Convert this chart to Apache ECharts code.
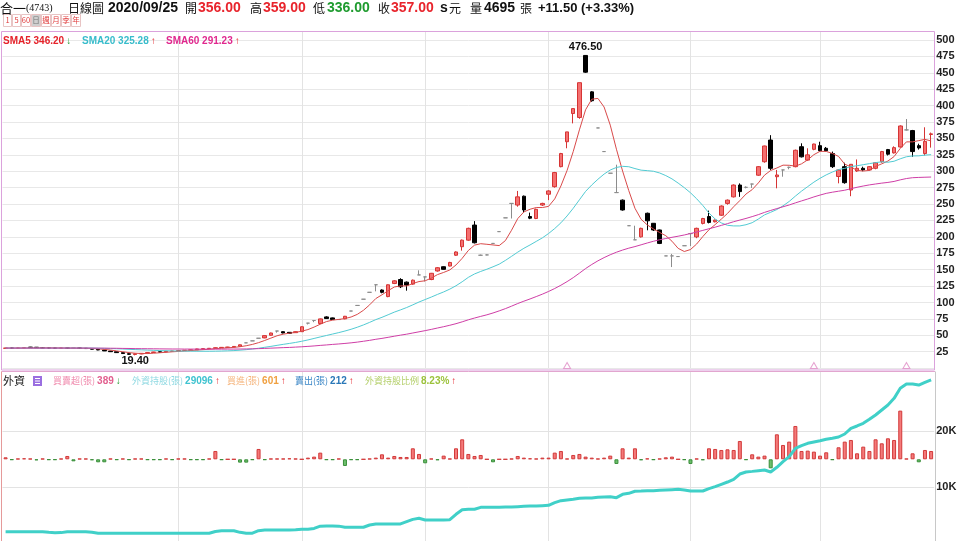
<!DOCTYPE html>
<html><head><meta charset="utf-8">
<script src="https://cdn.jsdelivr.net/npm/echarts@6/dist/echarts.min.js"></script>
<style>html,body{margin:0;padding:0;background:#fff;}#c{width:960px;height:541px;}</style>
</head><body><div id="c"></div>
<script>
// ---- trading days (categories) ----
const tradingDays = {
  '2020/02': [20,21,24,25,26,27],
  '2020/03': [2,3,4,5,6,9,10,11,12,13,16,17,18,19,20,23,24,25,26,27,30,31],
  '2020/04': [1,6,7,8,9,10,13,14,15,16,17,20,21,22,23,24,27,28,29,30],
  '2020/05': [4,5,6,7,8,11,12,13,14,15,18,19,20,21,22,25,26,27,28,29],
  '2020/06': [1,2,3,4,5,8,9,10,11,12,15,16,17,18,19,22,23,24,29,30],
  '2020/07': [1,2,3,6,7,8,9,10,13,14,15,16,17,20,21,22,23,24,27,28,29,30,31],
  '2020/08': [3,4,5,6,7,10,11,12,13,14,17,18,19,20,21,24,25,26,27,28,31],
  '2020/09': [1,2,3,4,7,8,9,10,11,14,15,16,17,18,21,22,23,24,25]
};
const monthLines = ['2020/04/01','2020/05/04','2020/06/01','2020/07/01','2020/08/03','2020/09/01'];
const eventDays = ['2020/07/06','2020/08/31','2020/09/21'];
const priceTicks = [25,50,75,100,125,150,175,200,225,250,275,300,325,350,375,400,425,450,475,500];
const holdTicks = {10000: '10K', 20000: '20K'};

// ---- price data ----
const open = [30.2,30.5,30.4,30.6,32.0,31.8,31.0,30.8,30.6,30.4, 30.5,30.5,30.6,30.2,29.8,28.6,27.5,26.0,25.0,23.6, 22.0,20.8,21.6,22.8,23.8,24.8,24.6,25.6,26.0,27.0, 27.2,27.8,29.2,29.6,30.2,31.0,31.6,32.0,33.2,38.5, 41.5,45.5,46.0,50.0,56.5,55.5,54.5,54.0,55.5,68.5, 72.5,68.0,78.0,76.5,74.0,75.0,87.0,95.5,105,115.5, 127,119,109,129,135,131,128,142,139,135, 148,154.5,155.5,172,185,195,218,172,172.5,190, 208,229,251,248.5,262,231,228,248.5,265,276.5, 307,345,388,382,476.5,421,366,330,297,267.5, 256,217,195.5,200,236,220.7,210.5,171,171,170, 186.5,205,200,220.5,231,223,233,251,261,279, 275.5,280.5,294,314.5,347.6,291.7,302,306,307,337.4, 317,333.4,339,335,327,292,307,271.4,300.4,304.5, 302,304.5,314.5,333,328,337,363,362,339,327, 356];
const close = [30.5,30.4,30.6,31.0,31.2,31.0,30.8,30.6,30.4,30.5, 30.3,30.5,30.2,29.8,28.8,27.6,26.2,25.0,23.6,22.2, 21.0,21.8,22.5,23.6,24.5,24.4,25.5,26.0,26.8,27.2, 27.8,29.2,29.6,30.2,31.0,31.6,32.0,33.0,35.5,38.5, 41.5,45.5,49.5,53.5,56.5,53.5,53.0,55.5,63.0,68.5, 72.5,75.0,75.5,74.0,74.0,79.0,87.0,95.5,105,115.5, 127,115.5,127,133,124,126.5,134,142,139,144.5, 153,150.5,161,177,195,213,191,172,172.5,190, 208,229,251,261,241,228.5,242,251,270,298, 327,360,395.5,435,451,407.5,366,330,297,267.5, 241,217,195.5,213,224.5,210.5,190,171,171,170, 186.5,205,213,228,222,225.5,247,256,279,269, 275.5,280.5,307,338.5,304.5,294.3,302,306,332,322, 325,341.5,331.3,331.3,307,302,282.6,310.6,304.5,302, 307,313,330,326,336,369,363,330,335.5,345.5, 357];
const low = [29.8,30.1,30.2,30.4,31.0,30.8,30.5,30.3,30.0,30.1, 30.0,30.2,30.0,29.5,28.5,27.3,26.0,24.5,23.2,21.8, 20.2,19.4,21.2,22.5,23.5,24.0,24.3,25.2,25.8,26.6, 27.0,27.6,28.8,29.3,30.0,30.8,31.3,31.8,33.0,38.5, 41.5,45.5,45.5,49.5,54.0,53.0,52.5,53.5,55.0,66.5, 70.0,67.0,75.0,73.5,73.5,74.5,87.0,95.5,105,115.5, 117,114,108,128,122,118,127,142,132,134, 147,150,155,171,179,194,190,172,172,190, 208,229,228,246,237,227,227,247,256,275, 306,335,373,380,450,406,366,330,297,267.5, 240,217,195.5,199,210,209,189,171,154,170, 186.5,186,198,219,220.5,222,232,249,260,261, 274,274.5,293,313,302,274,291.7,303,306,321, 316,332,330,330,305,281.6,281,262,299,300, 301,303,313,324,327,336,362,322,333,324, 336];
const high = [30.8,30.8,30.9,31.2,32.3,32.0,31.2,31.0,30.8,30.8, 30.7,30.8,30.8,30.4,30.0,28.8,27.8,26.3,25.2,23.8, 22.3,22.0,22.8,24.0,24.8,25.2,25.8,26.4,27.2,27.6, 28.2,29.5,30.0,30.5,31.4,32.0,32.4,33.4,35.8,38.5, 41.5,45.5,50.0,54.0,56.5,56.0,55.0,56.0,63.5,68.5, 72.5,75.5,79.0,77.0,74.5,79.5,87.0,95.5,105,115.5, 127,120,127.5,134,137,132,135,149,139,145, 154,155,162,178,196,214,224,173,173,190, 208,229,251,270,263,237,243,252,271,299, 328,360,395.5,435,476.5,422,366,330,297,310, 257,217,217,214,237,221,211,171,174,170, 186.5,205,214,229,240,226.5,248,257,280,281.5, 277,281,308,339,355,302,302,307,333,342.6, 335,342,345,337,330,303,313,311,318,307, 308,314,331,334,338,370,379.6,363,342,367, 359];
const sma5 = [30.5,30.5,30.5,30.6,30.7,30.8,30.9,30.9,30.8,30.7, 30.5,30.5,30.4,30.3,29.9,29.4,28.5,27.5,26.2,24.9, 23.6,22.7,22.2,22.2,22.7,23.4,24.1,24.8,25.4,26.0, 26.7,27.4,28.1,28.8,29.6,30.3,30.9,31.6,32.6,34.1, 36.1,38.8,42.1,45.7,49.3,51.7,53.2,54.4,56.3,58.7, 62.5,66.9,70.9,73.1,74.2,75.5,77.9,81.9,88.1,96.4, 106.0,111.7,118.0,123.6,125.3,125.2,128.9,131.9,133.1,137.2, 142.5,145.8,149.6,157.2,167.3,179.3,187.4,189.6,188.7,187.7, 186.7,194.3,210.1,227.8,238.0,242.1,244.7,244.7,246.5,257.9, 277.6,301.2,330.1,363.1,393.7,409.8,411.0,397.9,370.3,333.6, 300.3,270.5,243.6,226.8,218.2,212.1,206.7,201.8,193.4,182.5, 177.7,180.7,189.1,200.5,210.9,218.7,227.1,235.7,245.9,255.3, 265.3,272.0,282.2,294.1,301.2,305.0,309.3,309.1,307.8,311.3, 317.4,325.3,330.4,330.2,327.2,322.6,310.8,306.7,301.3,300.3, 301.3,307.4,311.3,315.6,322.4,334.8,344.8,344.8,346.7,348.6, 346.2];
const sma20 = [30.5,30.5,30.5,30.5,30.5,30.5,30.5,30.5,30.5,30.5, 30.5,30.5,30.5,30.5,30.5,30.3,30.1,29.8,29.5,29.1, 28.6,28.2,27.8,27.4,27.1,26.7,26.5,26.2,26.0,25.9, 25.8,25.7,25.7,25.7,25.8,26.0,26.3,26.7,27.3,28.1, 29.1,30.3,31.7,33.1,34.7,36.2,37.6,39.1,40.9,42.9, 45.2,47.5,49.7,51.9,54.1,56.5,59.2,62.3,65.8,69.7, 73.9,77.4,81.3,85.3,88.7,92.3,96.4,100.7,104.5,108.3, 112.3,116.1,120.4,125.5,131.6,138.3,143.5,147.3,150.7,154.4, 158.4,164.1,170.3,176.7,182.6,187.7,193.1,198.5,205.1,212.7, 221.4,231.9,243.6,256.5,269.3,279.1,287.8,295.7,301.9,305.8, 307.5,306.9,304.1,301.7,300.9,300.0,297.4,293.4,288.4,282.0, 275.0,267.2,258.1,247.8,236.3,227.2,221.3,217.6,216.7,216.7, 218.5,221.6,227.2,233.5,237.5,241.7,247.3,254.0,262.1,269.7, 276.6,283.4,289.3,294.5,298.8,302.6,304.4,307.1,308.4,310.0, 311.6,313.2,314.4,313.7,315.3,319.0,322.1,323.3,323.5,324.6, 325.3];
const sma60 = [30.5,30.5,30.5,30.5,30.5,30.5,30.5,30.5,30.5,30.5, 30.5,30.5,30.5,30.5,30.5,30.4,30.4,30.3,30.2,30.0, 29.9,29.7,29.6,29.5,29.4,29.3,29.2,29.1,29.1,29.0, 29.0,28.9,28.9,28.9,28.9,28.9,29.0,29.0,29.1,29.2, 29.4,29.7,30.0,30.4,30.8,31.2,31.5,32.0,32.5,33.1, 33.8,34.6,35.3,36.1,36.8,37.6,38.5,39.6,40.9,42.3, 43.9,45.3,46.9,48.6,50.2,51.7,53.5,55.3,57.1,59.0, 61.1,63.1,65.3,67.7,70.5,73.6,76.3,78.8,81.2,84.0, 87.2,90.6,94.4,98.4,102.0,105.4,109.0,112.7,116.8,121.3, 126.3,131.8,137.9,144.7,151.7,157.9,163.5,168.4,172.8,176.6, 179.9,182.8,185.2,187.9,190.7,193.3,195.6,197.5,199.3,201.0, 202.9,205.1,207.4,209.9,212.4,214.8,217.5,220.2,223.1,225.6, 228.1,230.9,233.9,237.3,240.3,243.1,245.9,248.6,251.8,254.8, 257.7,260.9,263.7,266.3,268.1,269.6,271.1,273.4,275.6,277.5, 279.2,280.6,281.9,283.0,284.5,286.9,288.9,290.2,290.6,290.9, 291.2];

// ---- foreign investor data ----
const netBuy = [94,-30,30,47,30,-47,30,-30,-30,30, 156,-94,30,30,-40,-140,-140,30,-30,30, -30,30,30,-30,-30,-30,30,-30,30,30, -30,-30,-30,30,390,-30,0,0,-156,-156, -30,484,-30,30,30,30,47,30,0,78, 125,312,-30,-30,30,-312,-30,-30,0,30, 78,234,78,156,109,109,515,250,-187,30, -40,172,30,515,936,250,156,203,0,-140, 0,0,30,156,78,47,30,78,78,312, 390,30,203,250,125,78,30,78,172,-218, 515,78,515,-40,40,-30,30,94,125,0, -30,-218,30,-40,515,484,437,468,437,858, -30,234,125,172,-421,1170,671,827,1560,390, 406,359,172,328,-30,562,827,905,281,593, 390,936,749,983,905,2278,30,281,-140,437, 389];
const holdings = [2120,2120,2120,2120,2120,2120,2120,2000,1940,1950, 2120,2120,2120,2100,2000,1830,1830,1830,1830,1830, 1830,1830,1830,1830,1830,1830,1830,1830,1830,1830, 1830,1830,1830,1830,2150,2300,2300,2280,2000,1840, 1850,2300,2400,2420,2420,2420,2420,2450,2530,2540, 2700,3100,3130,3130,3100,2900,2890,2890,2900,3300, 3480,3480,3480,3480,3500,3900,4300,4490,4200,4190, 4190,4200,4250,5200,6000,6090,6100,6440,6440,6440, 6440,6500,6500,6560,6620,6680,6680,6740,6800,7270, 7630,7750,7860,8040,8100,8100,8220,8280,8340,8160, 8750,8930,9290,9340,9400,9400,9460,9520,9580,9640, 9520,9340,9340,9340,9760,10110,10530,10940,11420,12360, 12720,12830,12950,13070,12720,13550,14560,15440,16920,17400, 17810,18050,18280,18520,18700,18930,19470,20470,20890,21360, 22070,22840,23730,24620,25800,27580,28350,28350,28170,28650, 29096];

// ---- build ----
const categories = [];
Object.keys(tradingDays).forEach(m => tradingDays[m].forEach(d => categories.push(m + '/' + String(d).padStart(2, '0'))));
const ohlc = open.map((o, i) => [o, close[i], low[i], high[i]]);
const hiIdx = high.indexOf(Math.max(...high));
const loIdx = low.indexOf(Math.min(...low));

const chart = echarts.init(document.getElementById('c'), null, {renderer: 'canvas', width: 960, height: 541});

const vLines = {
  silent: true, symbol: ['none', 'none'], z: 1, animation: false,
  label: {show: false}, emphasis: {disabled: true},
  lineStyle: {color: '#e3e3e3', width: 1, type: 'solid'},
  data: monthLines.map(d => ({xAxis: d}))
};

const CJK = '"Noto Sans CJK TC"';
const SANS = '"Liberation Sans"';
function T(x, y, text, font, fill, rich) {
  const st = {text: text, font: font, fill: fill, align: 'left', verticalAlign: 'middle', textAlign: 'left', textVerticalAlign: 'middle'};
  if (rich) st.rich = rich;
  return {type: 'text', x: x, y: y, silent: true, z: 100, style: st};
}
const graphics = [];
// panel frames
graphics.push({type: 'rect', silent: true, z: 90, shape: {x: 1.5, y: 31.5, width: 933, height: 338.5}, style: {fill: 'none', stroke: '#dba2dc', lineWidth: 1}});
graphics.push({type: 'line', silent: true, z: 90, shape: {x1: 1.5, y1: 371.5, x2: 935, y2: 371.5}, style: {stroke: '#e2a6cf', lineWidth: 1}});
graphics.push({type: 'line', silent: true, z: 90, shape: {x1: 1.5, y1: 371.5, x2: 1.5, y2: 541}, style: {stroke: '#e59a9a', lineWidth: 1}});
graphics.push({type: 'line', silent: true, z: 90, shape: {x1: 935.5, y1: 371.5, x2: 935.5, y2: 541}, style: {stroke: '#c8c8c8', lineWidth: 1}});
// header
const HB = 'bold 14px ' + SANS, HC = '12px ' + CJK;
[[0, '合一', '13px ' + CJK, '#111'], [26, '(4743)', '10px "Liberation Serif"', '#111'], [68, '日線圖', HC, '#111'],
 [108, '2020/09/25', HB, '#111'], [185, '開', HC, '#111'], [198, '356.00', HB, '#e8242c'],
 [250, '高', HC, '#111'], [263, '359.00', HB, '#e8242c'], [313, '低', HC, '#111'], [327, '336.00', HB, '#1f9b2f'],
 [378, '收', HC, '#111'], [391, '357.00', HB, '#e8242c'], [440, 's', HB, '#111'], [449, '元', HC, '#111'],
 [470, '量', HC, '#111'], [484, '4695', HB, '#111'], [520, '張', HC, '#111'], [538, '+11.50 (+3.33%)', 'bold 13px ' + SANS, '#111']
].forEach(a => graphics.push(T(a[0], 8, a[1], a[2], a[3])));
// period buttons
[['1', 3, 8], ['5', 12, 8], ['60', 21, 9], ['日', 31, 9], ['週', 41, 9], ['月', 51, 9], ['季', 61, 9], ['年', 71, 9]].forEach((b, k) => {
  graphics.push({type: 'rect', silent: true, z: 99, shape: {x: b[1] + 0.5, y: 14.5, width: b[2], height: 12}, style: {fill: k === 3 ? '#cfcfcf' : '#fff', stroke: '#e8c4c4', lineWidth: 1}});
  graphics.push({type: 'text', silent: true, z: 100, x: b[1] + 0.5 + b[2] / 2, y: 20.5, style: {text: b[0], font: '7.5px ' + CJK, fill: k === 3 ? '#777' : '#e03a3a', align: 'center', verticalAlign: 'middle', textAlign: 'center', textVerticalAlign: 'middle'}});
});
// MA legend (rich text: label + arrow)
const LB = 'bold 10px ' + SANS;
function legendItem(x, y, label, color, arrow, arrowColor, labelFont) {
  return T(x, y, '{l|' + label + '}{a|' + arrow + '}', labelFont, color, {
    l: {font: labelFont, fill: color},
    a: {font: 'bold 10px ' + SANS, fill: arrowColor, padding: [0, 0, 0, 2]}
  });
}
graphics.push(legendItem(3, 41, 'SMA5 346.20', '#e5222a', '↓', '#1e9a2c', LB));
graphics.push(legendItem(82, 41, 'SMA20 325.28', '#38bccb', '↑', '#e5222a', LB));
graphics.push(legendItem(166, 41, 'SMA60 291.23', '#e0288e', '↑', '#e5222a', LB));
// foreign legend
graphics.push(T(3, 381, '外資', '11px ' + CJK, '#222'));
graphics.push({type: 'rect', silent: true, z: 99, shape: {x: 33, y: 376, width: 9, height: 10}, style: {fill: '#9a6ee0'}});
[378.5, 381, 383.5].forEach(yy => graphics.push({type: 'line', silent: true, z: 100, shape: {x1: 35, y1: yy, x2: 40, y2: yy}, style: {stroke: '#fff', lineWidth: 1}}));
function footItem(x, label, lc, num, nc, arrow, ac) {
  return T(x, 381, '{l|' + label + '}{n|' + num + '}{a|' + arrow + '}', '9px ' + CJK, lc, {
    l: {font: '9px ' + CJK, fill: lc},
    n: {font: 'bold 10px ' + SANS, fill: nc, padding: [0, 0, 0, 2]},
    a: {font: 'bold 10px ' + SANS, fill: ac, padding: [0, 0, 0, 2]}
  });
}
graphics.push(footItem(53, '買賣超(張)', '#f08cae', '389', '#e2608f', '↓', '#1e9a2c'));
graphics.push(footItem(132, '外資持股(張)', '#8fd9e2', '29096', '#3fc3d0', '↑', '#e5222a'));
graphics.push(footItem(227, '買進(張)', '#f5b47c', '601', '#f0a040', '↑', '#e5222a'));
graphics.push(footItem(295, '賣出(張)', '#3a86c6', '212', '#2a78b8', '↑', '#e5222a'));
graphics.push(footItem(365, '外資持股比例', '#b4cf6a', '8.23%', '#9cc23c', '↑', '#e5222a'));

const axisFont = {fontFamily: 'Liberation Sans', fontWeight: 'bold', fontSize: 11, color: '#222'};

chart.setOption({
  animation: false,
  backgroundColor: '#ffffff',
  grid: [
    {left: 2.5, top: 31.5, width: 931.7, height: 336.6, outerBoundsMode: 'none'},
    {left: 2.5, top: 372, width: 931.7, height: 171.6, outerBoundsMode: 'none'}
  ],
  xAxis: [
    {type: 'category', gridIndex: 0, data: categories, boundaryGap: true, axisLine: {show: false}, axisTick: {show: false}, axisLabel: {show: false}, splitLine: {show: false}},
    {type: 'category', gridIndex: 1, data: categories, boundaryGap: true, axisLine: {show: false}, axisTick: {show: false}, axisLabel: {show: false}, splitLine: {show: false}}
  ],
  yAxis: [
    {type: 'value', gridIndex: 0, position: 'right', min: 0, max: 513, interval: 25,
      axisLine: {show: false}, axisTick: {show: false},
      axisLabel: Object.assign({margin: 2, formatter: v => priceTicks.indexOf(v) >= 0 ? String(v) : ''}, axisFont),
      splitLine: {show: true, lineStyle: {color: '#e8e8e8', width: 1}}},
    {type: 'value', gridIndex: 1, position: 'right', min: 0, max: 30480, interval: 10000,
      axisLine: {show: false}, axisTick: {show: false},
      axisLabel: Object.assign({margin: 2, formatter: v => holdTicks[v] || ''}, axisFont),
      splitLine: {show: false}},
    {type: 'value', gridIndex: 1, min: -3945, max: 4086, show: false, splitLine: {show: false}}
  ],
  graphic: {elements: graphics},
  series: [
    {type: 'candlestick', xAxisIndex: 0, yAxisIndex: 0, data: ohlc, barWidth: 4, z: 3,
      itemStyle: {color: '#f47070', color0: '#000000', borderColor: '#d63434', borderColor0: '#000000', borderColorDoji: '#8c8c8c', borderWidth: 1},
      markLine: vLines,
      markPoint: {
        silent: true, symbol: 'circle', symbolSize: 1, animation: false,
        itemStyle: {color: 'rgba(0,0,0,0)'},
        label: {show: true, color: '#111', fontFamily: 'Liberation Sans', fontWeight: 'bold', fontSize: 11},
        data: [
          {coord: [categories[hiIdx], high[hiIdx]], value: high[hiIdx].toFixed(2), label: {position: 'top', distance: 2}},
          {coord: [categories[loIdx], low[loIdx]], value: low[loIdx].toFixed(2), label: {position: 'bottom', distance: 0}}
        ]
      }},
    {type: 'line', name: 'SMA5', xAxisIndex: 0, yAxisIndex: 0, data: sma5, showSymbol: false, z: 4, lineStyle: {color: '#d94a4a', width: 1}, itemStyle: {color: '#d94a4a'}},
    {type: 'line', name: 'SMA20', xAxisIndex: 0, yAxisIndex: 0, data: sma20, showSymbol: false, z: 4, lineStyle: {color: '#52cbd3', width: 1}, itemStyle: {color: '#52cbd3'}},
    {type: 'line', name: 'SMA60', xAxisIndex: 0, yAxisIndex: 0, data: sma60, showSymbol: false, z: 4, lineStyle: {color: '#cf3ea6', width: 1}, itemStyle: {color: '#cf3ea6'}},
    {type: 'scatter', xAxisIndex: 0, yAxisIndex: 0, data: eventDays.map(d => [d, 4]), symbol: 'triangle', symbolSize: [7, 6], z: 5,
      itemStyle: {color: '#ffffff', borderColor: '#e08cc6', borderWidth: 1}},
    {type: 'bar', xAxisIndex: 1, yAxisIndex: 2, barWidth: 4, z: 2,
      data: netBuy.map(v => ({value: v, itemStyle: v >= 0 ? {color: '#f47a7a', borderColor: '#d23a3a', borderWidth: 1} : {color: '#6cbf6c', borderColor: '#3a8e3a', borderWidth: 1}})),
      markLine: vLines},
    {type: 'line', xAxisIndex: 1, yAxisIndex: 1, data: holdings, showSymbol: false, z: 4,
      lineStyle: {color: '#40d0c8', width: 3}, itemStyle: {color: '#40d0c8'},
      markLine: {silent: true, symbol: ['none', 'none'], z: 1, label: {show: false}, lineStyle: {color: '#e3e3e3', width: 1, type: 'solid'},
        data: [{yAxis: 10000}, {yAxis: 20000}]}}
  ]
});
</script></body></html>
